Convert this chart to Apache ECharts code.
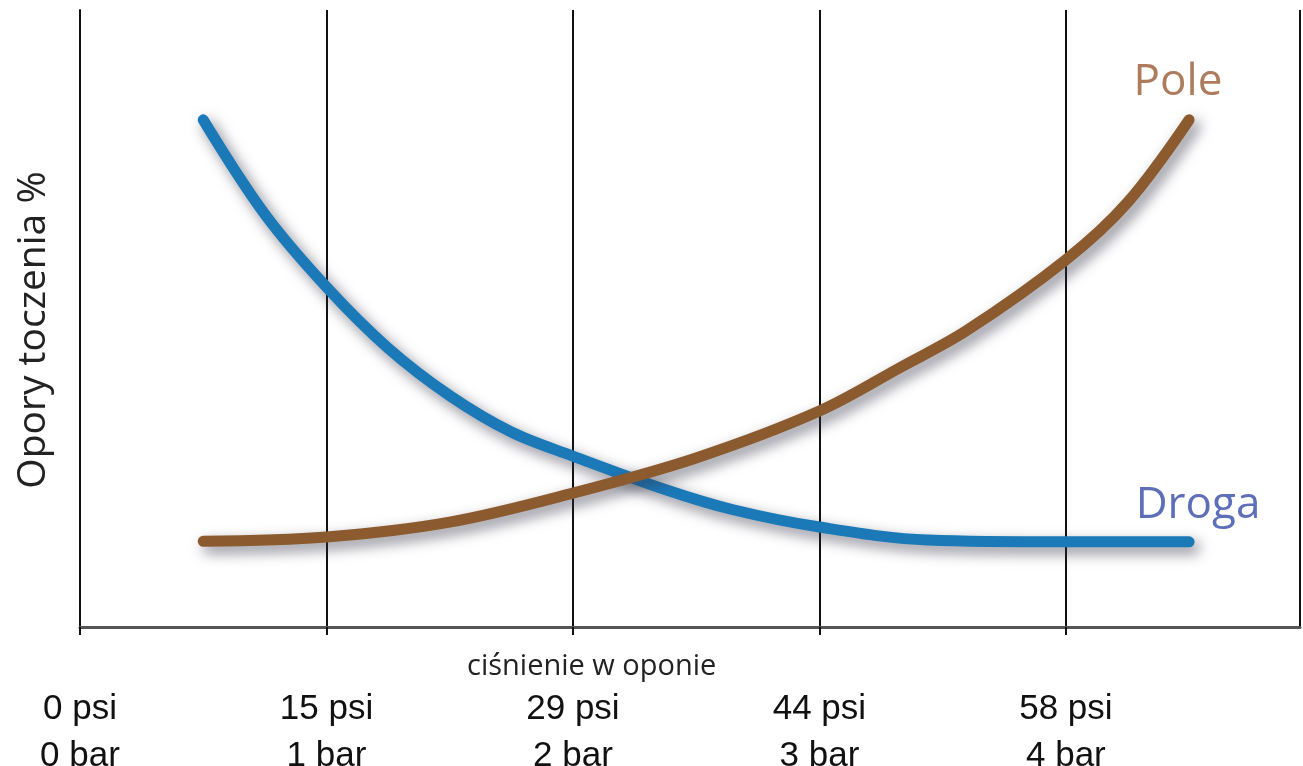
<!DOCTYPE html>
<html>
<head>
<meta charset="utf-8">
<script src="https://cdn.jsdelivr.net/npm/echarts@6/dist/echarts.min.js"></script>
<style>html,body{margin:0;padding:0;background:#fff}#c{width:1303px;height:766px}</style>
</head>
<body>
<div id="c"></div>
<script>
// pressure in bar (x), rolling resistance (relative %, y)
const drogaX = [0.5, 0.75, 1.0, 1.25, 1.5, 1.75, 2.0, 2.38, 2.65, 3.0, 3.44, 4.0, 4.5];
const drogaY = [82.2, 66.9, 55.1, 45.2, 37.5, 31.6, 27.7, 22.2, 19.0, 16.2, 14.1, 13.8, 13.8];
const poleX = [0.5, 1.0, 1.5, 2.0, 2.5, 3.0, 3.33, 3.6, 4.0, 4.25, 4.5];
const poleY = [13.9, 14.6, 17.0, 21.7, 27.4, 35.0, 42.1, 48.1, 59.5, 68.8, 82.2];
const psiLabels = ['0 psi', '15 psi', '29 psi', '44 psi', '58 psi'];
const barLabels = ['0 bar', '1 bar', '2 bar', '3 bar', '4 bar'];
const yAxisTitle = 'Opory toczenia %';
const xAxisTitle = 'ciśnienie w oponie';

const chart = echarts.init(document.getElementById('c'));
const zip = (xs, ys) => xs.map((x, i) => [x, ys[i]]);
const shadow = {shadowColor: 'rgba(50,50,70,0.6)', shadowBlur: 14, shadowOffsetX: 5, shadowOffsetY: 6};

chart.setOption({
  animation: false,
  backgroundColor: '#fff',
  grid: {left: 80, right: 3, top: 10, bottom: 139, containLabel: false, outerBoundsMode: 'none'},
  xAxis: {
    type: 'value', min: 0, max: 4.95, interval: 1,
    axisLine: {show: true, lineStyle: {color: '#555', width: 3}},
    axisTick: {show: true, length: 8, lineStyle: {color: '#111', width: 2}},
    splitLine: {show: true, lineStyle: {color: '#111', width: 2}},
    axisLabel: {
      showMaxLabel: false, margin: 59, verticalAlign: 'top',
      formatter: v => {
        const i = Math.round(v);
        if (i < 0 || i >= psiLabels.length || Math.abs(v - i) > 1e-6) return '';
        return psiLabels[i] + '\n' + barLabels[i];
      },
      fontFamily: 'Liberation Sans, Arial, sans-serif', fontSize: 35, lineHeight: 47, color: '#111'
    }
  },
  yAxis: {
    type: 'value', min: 0, max: 100,
    axisLine: {show: true, lineStyle: {color: '#111', width: 2}},
    axisTick: {show: false}, axisLabel: {show: false}, splitLine: {show: false}
  },
  graphic: [
    {type: 'text', x: 34, y: 330, rotation: Math.PI / 2,
      style: {text: yAxisTitle, font: '39px "Open Sans", sans-serif', fill: '#222', align: 'center', verticalAlign: 'middle'}},
    {type: 'text', x: 467, y: 667,
      style: {text: xAxisTitle, font: '29px "Open Sans", sans-serif', fill: '#222', align: 'left', verticalAlign: 'middle'}},
    {type: 'text', x: 1178, y: 82,
      style: {text: 'Pole', font: '44px "Open Sans", sans-serif', fill: '#ad7c5c', align: 'center', verticalAlign: 'middle'}},
    {type: 'text', x: 1198, y: 505,
      style: {text: 'Droga', font: '44px "Open Sans", sans-serif', fill: '#5d6fb8', align: 'center', verticalAlign: 'middle'}}
  ],
  series: [
    {
      name: 'Droga', type: 'line', smooth: 0.35, symbol: 'none', z: 3,
      data: zip(drogaX, drogaY),
      lineStyle: Object.assign({color: '#1b79b8', width: 11, cap: 'round', join: 'round'}, shadow)
    },
    {
      name: 'Pole', type: 'line', smooth: 0.35, symbol: 'none', z: 4,
      data: zip(poleX, poleY),
      lineStyle: Object.assign({color: '#8b5a2e', width: 11, cap: 'round', join: 'round'}, shadow)
    }
  ]
});
</script>
</body>
</html>
